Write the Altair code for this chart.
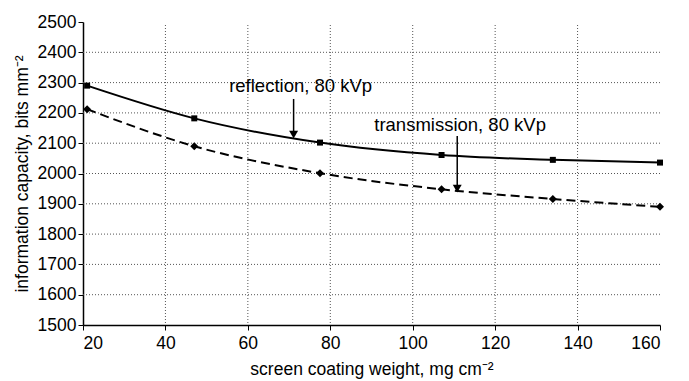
import altair as alt
import pandas as pd

weights = [21, 47, 77.5, 107, 134, 160]
reflection = [2290, 2182, 2102, 2061, 2045, 2036]
transmission = [2212, 2090, 2001, 1948, 1916, 1890]

grid_y = [1600, 1700, 1800, 1900, 2000, 2100, 2200, 2300, 2400]
grid_x = [40, 60, 80, 100, 120, 140]
x_ticks = [20, 40, 60, 80, 100, 120, 140, 160]
y_ticks = [1500, 1600, 1700, 1800, 1900, 2000, 2100, 2200, 2300, 2400, 2500]

labels = ["reflection, 80 kVp", "transmission, 80 kVp"]
label_x = [72.8, 111.5]
label_y = [2289, 2160]
arrow_x = [71.1, 110.8]
arrow_y0 = [2246, 2124]
arrow_y1 = [2128, 1950]

FONT = "Liberation Sans"
FS = 17.5

df_r = pd.DataFrame({"w": weights, "v": reflection})
df_t = pd.DataFrame({"w": weights, "v": transmission})
df_gy = pd.DataFrame({"y": grid_y})
df_gx = pd.DataFrame({"x": grid_x})
df_lab = pd.DataFrame({"x": label_x, "y": label_y, "t": labels})
df_arr = pd.DataFrame({"x": arrow_x, "y0": arrow_y0, "y1": arrow_y1})

xs = alt.Scale(domain=[20, 160], nice=False, zero=False)
ys = alt.Scale(domain=[1500, 2500], nice=False, zero=False)

xax = alt.Axis(values=x_ticks, grid=False, format="d", labelPadding=4, titlePadding=9,
               labelOverlap=False, labelFontSize=FS, titleFontSize=FS, labelFont=FONT, titleFont=FONT,
               title="screen coating weight, mg cm\u207b\u00b2")
yax = alt.Axis(values=y_ticks, grid=False, format="d", titlePadding=6,
               labelOverlap=False, labelFontSize=FS, titleFontSize=FS, labelFont=FONT, titleFont=FONT,
               title="information capacity, bits mm\u207b\u00b2")


def X(f):
    return alt.X(f, scale=xs, axis=xax)


def Y(f):
    return alt.Y(f, scale=ys, axis=yax)


gh = alt.Chart(df_gy).mark_rule(color="#555", strokeDash=[1, 2], strokeWidth=1).encode(
    y=Y("y:Q"), x=alt.value(0), x2=alt.value(577))
gv = alt.Chart(df_gx).mark_rule(color="#555", strokeDash=[1, 2], strokeWidth=1).encode(
    x=X("x:Q"), y=alt.value(3), y2=alt.value(303))

line_r = alt.Chart(df_r).mark_line(color="black", strokeWidth=2, interpolate="monotone").encode(
    x=X("w:Q"), y=Y("v:Q"))
pts_r = alt.Chart(df_r).mark_point(shape="square", filled=True, color="black", size=36, opacity=1).encode(
    x=X("w:Q"), y=Y("v:Q"))
line_t = alt.Chart(df_t).mark_line(color="black", strokeWidth=2, strokeDash=[9, 5], interpolate="monotone").encode(
    x=X("w:Q"), y=Y("v:Q"))
pts_t = alt.Chart(df_t).mark_point(shape="diamond", filled=True, color="black", size=65, opacity=1).encode(
    x=X("w:Q"), y=Y("v:Q"))

txt = alt.Chart(df_lab).mark_text(font=FONT, fontSize=18.5, color="black", align="center", baseline="middle").encode(
    x=X("x:Q"), y=Y("y:Q"), text="t:N")
shaft = alt.Chart(df_arr).mark_rule(color="black", strokeWidth=1.5).encode(
    x=X("x:Q"), y=Y("y0:Q"), y2="y1:Q")
head = alt.Chart(df_arr).mark_point(shape="triangle-down", filled=True, color="black", size=80, opacity=1).encode(
    x=X("x:Q"), y=Y("y1:Q"))

chart = alt.layer(gh, gv, line_r, line_t, pts_r, pts_t, shaft, head, txt).properties(
    width=577, height=303
).configure_view(stroke=None).configure_axis(
    labelColor="black", titleColor="black", titleFontWeight="normal",
    domainColor="black", tickColor="black", domainWidth=1.5, tickSize=5,
)

chart.save("out.html", embed_options={"renderer": "svg", "actions": False})
